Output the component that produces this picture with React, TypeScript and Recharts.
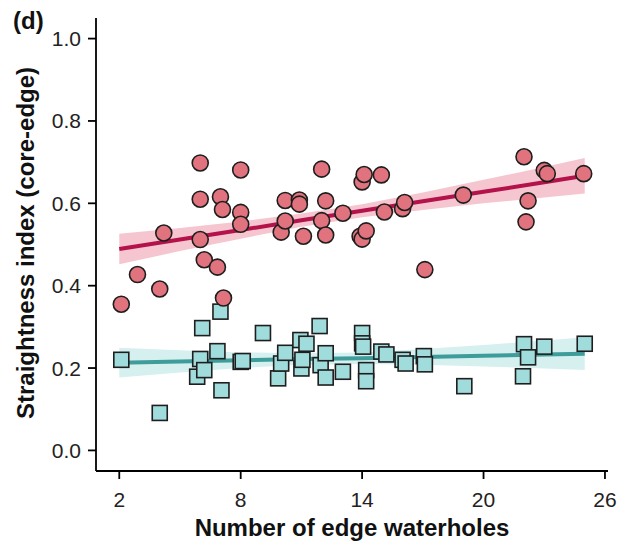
import React from 'react';
import { ComposedChart, XAxis, YAxis, Area, Line, Scatter, Label } from 'recharts';

// red circles (upper group)
const redX = [2.1, 2.9, 4.0, 4.2, 6.0, 6.0, 6.0, 6.2, 6.85, 7.0, 7.1, 7.15, 8.0, 8.0, 8.0, 10.0, 10.2, 10.2, 10.9, 10.9, 11.1, 12.0, 12.0, 12.2, 12.2, 13.05, 14.0, 14.1, 13.9, 14.0, 14.2, 14.95, 15.1, 16.0, 16.1, 17.1, 19.0, 22.0, 22.2, 22.1, 23.0, 23.15, 24.95];
const redY = [0.355, 0.427, 0.392, 0.528, 0.698, 0.61, 0.512, 0.463, 0.445, 0.616, 0.585, 0.37, 0.681, 0.578, 0.549, 0.53, 0.607, 0.557, 0.608, 0.598, 0.52, 0.683, 0.558, 0.606, 0.523, 0.576, 0.652, 0.67, 0.52, 0.513, 0.533, 0.669, 0.579, 0.587, 0.602, 0.439, 0.62, 0.713, 0.606, 0.555, 0.68, 0.672, 0.672];

// teal squares (lower group)
const tealX = [2.1, 4.0, 5.85, 6.0, 6.1, 6.2, 6.85, 7.0, 7.05, 8.0, 8.1, 9.1, 9.85, 10.0, 10.2, 10.95, 11.0, 11.05, 11.25, 11.9, 11.95, 12.2, 12.2, 13.05, 14.0, 14.0, 14.05, 14.2, 14.2, 14.95, 15.2, 16.0, 16.15, 17.05, 17.1, 19.05, 21.95, 22.0, 22.2, 23.0, 25.0];
const tealY = [0.22, 0.091, 0.179, 0.222, 0.297, 0.195, 0.241, 0.337, 0.146, 0.215, 0.217, 0.285, 0.175, 0.211, 0.237, 0.268, 0.199, 0.22, 0.259, 0.302, 0.207, 0.236, 0.177, 0.191, 0.285, 0.26, 0.252, 0.195, 0.168, 0.24, 0.233, 0.22, 0.211, 0.229, 0.209, 0.156, 0.18, 0.258, 0.226, 0.252, 0.259];

// fitted lines and confidence bands, read at a few x positions
const fitX = [2, 5, 8, 11, 14, 17, 20, 23, 25];
const redFit = [0.489, 0.512, 0.535, 0.559, 0.582, 0.605, 0.628, 0.651, 0.667];
const redLow = [0.452, 0.484, 0.514, 0.543, 0.566, 0.584, 0.6, 0.614, 0.624];
const redHigh = [0.526, 0.54, 0.556, 0.575, 0.598, 0.626, 0.657, 0.688, 0.71];
const tealFit = [0.213, 0.216, 0.219, 0.222, 0.224, 0.227, 0.23, 0.233, 0.235];
const tealLow = [0.177, 0.189, 0.2, 0.208, 0.21, 0.208, 0.204, 0.199, 0.195];
const tealHigh = [0.249, 0.243, 0.238, 0.236, 0.238, 0.246, 0.256, 0.267, 0.275];

const xTicks = [2, 8, 14, 20, 26];
const yTicks = [0, 0.2, 0.4, 0.6, 0.8, 1.0];

const font = '"Liberation Sans", Arial, sans-serif';

const fitRows = fitX.map((x, i) => ({
  x,
  redFit: redFit[i],
  redBand: [redLow[i], redHigh[i]],
  tealFit: tealFit[i],
  tealBand: [tealLow[i], tealHigh[i]],
}));
const redPts = redX.map((x, i) => ({ x, y: redY[i] }));
const tealPts = tealX.map((x, i) => ({ x, y: tealY[i] }));

const Dot = (p: any) => (
  <circle cx={p.cx} cy={p.cy} r={8} fill="#e0737d" stroke="#1e1e1e" strokeWidth={1.6} />
);
const Box = (p: any) => (
  <rect x={p.cx - 7.5} y={p.cy - 7.5} width={15} height={15} fill="#a0dcdc" stroke="#1e1e1e" strokeWidth={1.6} />
);

export default function App() {
  const tickStyle = { fontSize: 21, fill: '#222', fontFamily: font };
  return (
    <div style={{ position: 'absolute', left: 0, top: 0, width: 629, height: 544, background: '#fff' }}>
      <ComposedChart width={629} height={544} data={fitRows} margin={{ top: 18, right: 21, bottom: 0, left: 0 }}>
        <XAxis
          type="number"
          dataKey="x"
          domain={[0.85, 26.15]}
          ticks={xTicks}
          allowDataOverflow
          height={73}
          tickSize={8}
          tickMargin={13}
          tick={tickStyle}
          axisLine={{ stroke: '#000', strokeWidth: 1.8 }}
          tickLine={{ stroke: '#000', strokeWidth: 1.8 }}
        >
          <Label
            content={() => (
              <text x={352} y={536} textAnchor="middle" fontSize={24} fontWeight="bold" fontFamily={font} fill="#111">
                Number of edge waterholes
              </text>
            )}
          />
        </XAxis>
        <YAxis
          type="number"
          domain={[-0.05, 1.05]}
          ticks={yTicks}
          allowDataOverflow
          width={96}
          tickSize={8}
          tickMargin={7}
          tick={tickStyle}
          tickFormatter={(v: number) => v.toFixed(1)}
          axisLine={{ stroke: '#000', strokeWidth: 1.8 }}
          tickLine={{ stroke: '#000', strokeWidth: 1.8 }}
        >
          <Label
            content={() => (
              <text
                x={33.5}
                y={243}
                transform="rotate(-90 33.5 243)"
                textAnchor="middle"
                fontSize={24}
                fontWeight="bold"
                fontFamily={font}
                fill="#111"
              >
                Straightness index (core-edge)
              </text>
            )}
          />
        </YAxis>
        <Area type="linear" dataKey="redBand" stroke="none" fill="#f5c6cf" fillOpacity={1} isAnimationActive={false} />
        <Area type="linear" dataKey="tealBand" stroke="none" fill="#d6f0f0" fillOpacity={1} isAnimationActive={false} />
        <Line type="linear" dataKey="redFit" stroke="#b3124a" strokeWidth={4} dot={false} isAnimationActive={false} />
        <Line type="linear" dataKey="tealFit" stroke="#3e9c9a" strokeWidth={4} dot={false} isAnimationActive={false} />
        <Scatter data={tealPts} dataKey="y" shape={Box} isAnimationActive={false} />
        <Scatter data={redPts} dataKey="y" shape={Dot} isAnimationActive={false} />
      </ComposedChart>
      <svg width={60} height={40} style={{ position: 'absolute', left: 0, top: 0 }}>
        <text x={13} y={29} fontSize={24} fontWeight="bold" fontFamily={font} fill="#111">
          (d)
        </text>
      </svg>
    </div>
  );
}
